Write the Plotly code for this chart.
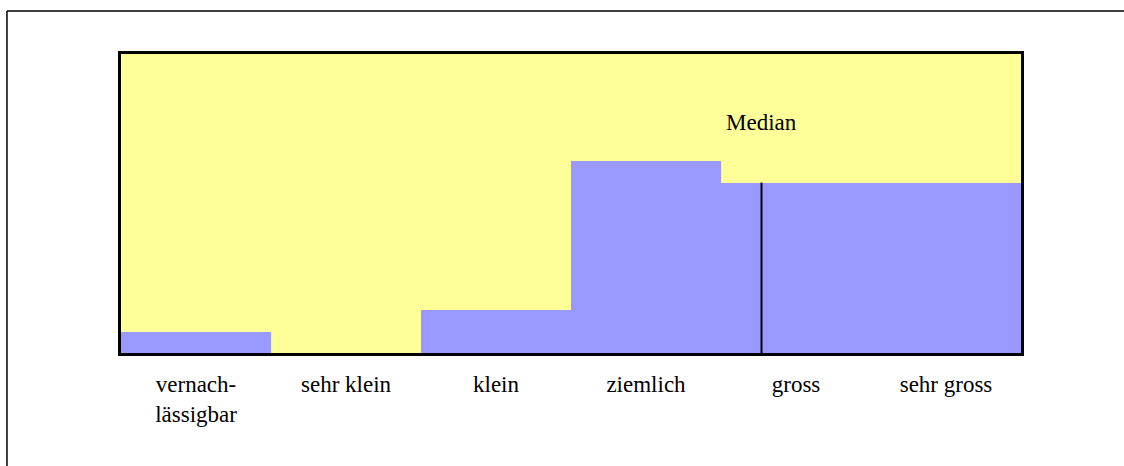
import plotly.graph_objects as go

# categories and share (%) per category
categories = ["vernach-<br>lässigbar", "sehr klein", "klein", "ziemlich", "gross", "sehr gross"]
shares = [3.5, 0, 7.2, 32.1, 28.5, 28.5]
median_pos = 3.77      # position of the median on the category axis
median_top = 28.5      # height of the median marker
median_label = "Median"

fig = go.Figure()
fig.add_trace(go.Bar(
    x=list(range(len(categories))),
    y=shares,
    width=1,
    marker=dict(color="#9999FF", line=dict(width=0)),
    showlegend=False,
    hoverinfo="skip",
))

# median marker
fig.add_shape(type="line", x0=median_pos, x1=median_pos, y0=0, y1=median_top,
              xref="x", yref="y", line=dict(color="black", width=2))
fig.add_annotation(x=median_pos, y=38.6, text=median_label, showarrow=False,
                   font=dict(size=23, color="black"))

# outer frame (top and left edges)
fig.add_shape(type="line", xref="paper", yref="paper",
              x0=-0.1267, x1=1.12, y0=1.1438, y1=1.1438,
              line=dict(color="black", width=1.5))
fig.add_shape(type="line", xref="paper", yref="paper",
              x0=-0.1267, x1=-0.1267, y0=1.1438, y1=-0.4,
              line=dict(color="black", width=1.5))

fig.update_layout(
    width=1124, height=466,
    margin=dict(l=121, r=103, t=54, b=113),
    paper_bgcolor="white",
    plot_bgcolor="#FFFF99",
    font=dict(family="Liberation Serif, Times New Roman, serif", size=23, color="black"),
    bargap=0,
    xaxis=dict(
        range=[-0.5, len(categories) - 0.5],
        tickmode="array",
        tickvals=list(range(len(categories))),
        ticktext=categories,
        showgrid=False, zeroline=False,
        showline=True, mirror=True, linecolor="black", linewidth=3,
        ticks="outside", ticklen=0, ticklabelstandoff=8,
        tickfont=dict(size=23),
    ),
    yaxis=dict(
        range=[0, 50],
        showgrid=False, zeroline=False, showticklabels=False,
        showline=True, mirror=True, linecolor="black", linewidth=3,
    ),
)

fig.write_html("out.html", config={"displayModeBar": False},
               post_script="document.body.style.margin='0';")
